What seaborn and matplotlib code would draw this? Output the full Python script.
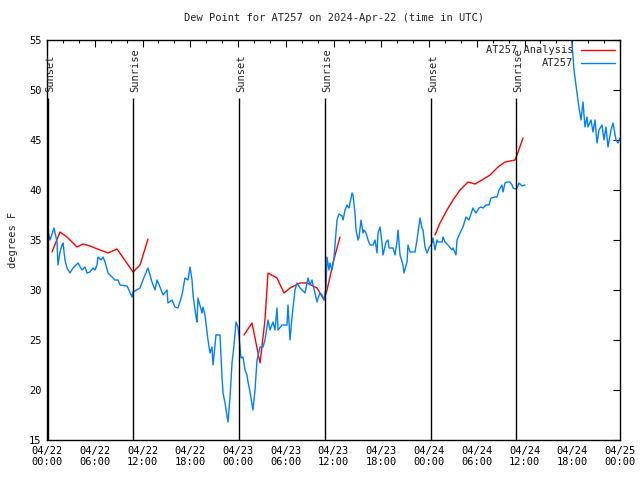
import pandas as pd
import seaborn as sns
import matplotlib
matplotlib.use("Agg")
import matplotlib.pyplot as plt

# hours since 2024-04-22 00:00 UTC, dew point in F
obs_hours_a = [0.0, 0.38, 0.88, 1.26, 1.38, 1.63, 1.88, 2.01, 2.26, 2.51, 2.89, 3.27, 3.9, 4.4, 4.78,
               5.03, 5.4, 5.78, 6.03, 6.28, 6.41, 6.79, 7.04, 7.29, 7.67, 8.17, 8.54, 8.92, 9.17, 10.05,
               10.18, 10.68, 10.81, 11.69, 12.06, 12.57, 12.69, 13.19, 13.57, 13.82, 14.2, 14.58, 15.08,
               15.2, 15.71, 16.08, 16.46, 16.96, 17.34, 17.72, 17.97, 18.22, 18.35, 18.72, 18.85, 18.97,
               19.48, 19.6, 19.85, 20.23, 20.48, 20.73, 20.86, 21.24, 21.74, 21.99, 22.12, 22.37, 22.74,
               23.0, 23.25, 23.5, 23.75, 24.0, 24.13, 24.38, 24.63, 24.88, 25.13, 25.26, 25.51, 25.88,
               26.14, 26.39, 26.77, 27.14, 27.39, 27.77, 28.02, 28.4, 28.65, 28.9, 29.03, 29.53, 30.16,
               30.28, 30.54, 30.79, 30.91, 31.16, 31.42, 31.79, 32.04, 32.42, 32.67, 32.8, 33.05, 33.3,
               33.43, 33.93, 34.06, 34.31, 34.56, 34.81, 35.06, 35.18, 35.43, 35.56, 35.81, 36.06, 36.31,
               36.44, 36.69, 37.07, 37.2, 37.45, 37.7, 37.95, 38.33, 38.45, 38.7, 38.83, 39.08, 39.21,
               39.46, 39.71, 39.83, 40.09, 40.34, 40.59, 40.97, 41.22, 41.47, 41.59, 41.85, 42.1, 42.22,
               42.6, 42.85, 42.98, 43.48, 43.73, 43.98, 44.11, 44.36, 44.73, 44.86, 45.24, 45.36, 45.62,
               46.24, 46.49, 46.87, 47.12, 47.25, 47.5, 47.75, 48.0, 48.38, 48.5, 48.76, 49.01, 49.13,
               49.64, 49.76, 50.01, 50.39, 50.89, 51.02, 51.39, 51.52, 51.9, 52.27, 52.65, 53.02, 53.53,
               53.65, 53.9, 54.28, 54.54, 54.79, 55.16, 55.54, 55.79, 56.3, 56.55, 56.8, 57.17, 57.3,
               57.55, 57.8, 58.18, 58.43, 58.56, 58.81, 59.06, 59.31, 59.69, 60.07]
obs_dew_a = [36.3, 35.0, 36.2, 34.8, 32.5, 33.8, 34.5, 34.7, 33.0, 32.2, 31.7, 32.2, 32.7, 32.0, 32.3,
             31.7, 31.8, 32.2, 32.0, 32.5, 33.3, 33.0, 33.3, 32.8, 31.7, 31.3, 31.0, 31.0, 30.5, 30.4,
             30.2, 29.3, 29.8, 30.2, 31.0, 32.0, 32.2, 30.8, 30.0, 31.0, 30.3, 29.5, 30.0,
             28.7, 29.0, 28.3, 28.2, 29.5, 31.2, 31.0, 32.3, 31.0, 29.5, 27.3, 26.8, 29.2,
             27.7, 28.3, 27.5, 25.0, 23.7, 24.3, 22.5, 25.5, 25.5, 21.3, 19.7, 18.7, 16.8,
             19.3, 22.7, 24.5, 26.8, 26.3, 25.3, 23.2, 23.3, 22.0, 21.5, 20.8, 19.8, 18.0,
             20.0, 23.0, 24.3, 24.3, 25.0, 27.0, 26.0, 26.8, 26.0, 28.2, 26.0, 26.5, 26.5,
             28.5, 25.0, 27.3, 28.2, 30.0, 30.7, 30.2, 30.0, 29.7, 30.7, 31.2, 30.5, 31.0,
             30.5, 28.8, 29.2, 29.7, 29.5, 29.0, 30.3, 33.3, 32.0, 32.7, 32.0, 33.2, 35.7,
             37.0, 37.6, 37.4, 37.0, 38.0, 38.5, 38.2, 39.7, 39.5, 37.7, 36.0, 35.0, 35.3,
             37.0, 35.7, 36.0, 35.7, 35.0, 34.5, 34.5, 35.0, 33.7, 35.7, 36.3, 34.7, 33.5,
             34.8, 35.0, 34.2, 34.2, 33.5, 34.8, 36.0, 33.5, 32.5, 31.7, 32.8, 34.5, 33.8,
             33.8, 35.0, 37.2, 36.2, 36.0, 34.3, 33.7, 34.2, 34.7, 35.2, 34.0, 35.0, 34.8,
             34.8, 35.3, 34.8, 34.5, 34.0, 34.2, 33.5, 35.0, 35.7, 36.3, 37.3, 37.0, 38.2,
             38.0, 37.7, 38.2, 38.3, 38.2, 38.5, 38.5, 39.2, 39.3, 39.3, 40.0, 40.5, 39.8,
             40.7, 40.8, 40.8, 40.5, 40.2, 40.1, 40.2, 40.7, 40.4, 40.5]

obs_hours_b = [65.9, 66.22, 66.6, 66.85, 67.1, 67.35, 67.6, 67.86, 67.98, 68.36, 68.61, 68.86, 69.11,
               69.36, 69.74, 69.99, 70.24, 70.49, 70.87, 71.12, 71.5, 71.75, 72.0]
obs_dew_b = [55.4, 52.0, 49.7, 48.2, 47.0, 48.8, 46.3, 47.3, 46.3, 47.0, 45.8, 47.0, 44.7,
             46.0, 46.5, 45.0, 46.3, 44.3, 46.0, 46.7, 45.0, 44.7, 45.2]

ana_hours_a = [0.63, 1.63, 2.51, 3.77, 4.52, 5.4, 6.66, 7.67, 8.8, 10.81, 11.69, 12.69]
ana_dew_a = [33.8, 35.8, 35.3, 34.3, 34.6, 34.4, 34.0, 33.7, 34.1, 31.8, 32.5, 35.1]

ana_hours_b = [24.75, 25.76, 26.77, 27.39, 27.77, 28.9, 29.78, 30.54, 31.79, 32.67, 33.93, 34.81,
               35.18, 35.56, 35.94, 36.44, 36.82]
ana_dew_b = [25.5, 26.7, 22.7, 27.0, 31.7, 31.2, 29.7, 30.2, 30.7, 30.7, 30.2, 29.0,
             30.0, 31.3, 32.7, 34.2, 35.3]

ana_hours_c = [48.76, 49.38, 50.26, 51.02, 51.9, 52.9, 53.78, 54.66, 55.67, 56.67, 57.55, 58.81,
               59.06, 59.81]
ana_dew_c = [35.5, 36.7, 38.0, 39.0, 40.0, 40.8, 40.6, 41.0, 41.5, 42.3, 42.8, 43.0,
             43.5, 45.2]

sun_hours = [0.1, 10.81, 24.13, 34.93, 48.25, 58.93]
sun_labels = ["Sunset", "Sunrise", "Sunset", "Sunrise", "Sunset", "Sunrise"]

tick_hours = list(range(0, 73, 6))
tick_labels = ["04/22\n00:00", "04/22\n06:00", "04/22\n12:00", "04/22\n18:00",
               "04/23\n00:00", "04/23\n06:00", "04/23\n12:00", "04/23\n18:00",
               "04/24\n00:00", "04/24\n06:00", "04/24\n12:00", "04/24\n18:00",
               "04/25\n00:00"]

sns.set_theme(style="white", rc={"xtick.direction": "in", "ytick.direction": "in"})
plt.rcParams["font.family"] = ["DejaVu Sans Mono", "DejaVu Sans"]
plt.rcParams["font.size"] = 7.5

fig = plt.figure(figsize=(6.4, 4.8), dpi=100)
ax = fig.add_axes([47 / 640, 40 / 480, 573 / 640, 400 / 480])

RED = "#ff0000"
BLUE = "#0080ff"

segments = [
    (ana_hours_a, ana_dew_a, RED, "AT257 Analysis"),
    (ana_hours_b, ana_dew_b, RED, None),
    (ana_hours_c, ana_dew_c, RED, None),
    (obs_hours_a, obs_dew_a, BLUE, "AT257"),
    (obs_hours_b, obs_dew_b, BLUE, None),
]
for hours, vals, color, label in segments:
    df = pd.DataFrame({"hour": hours, "dew": vals})
    sns.lineplot(data=df, x="hour", y="dew", color=color, lw=1.0, ax=ax,
                 label=label, sort=False, estimator=None)

for h, name in zip(sun_hours, sun_labels):
    ax.vlines(h, 15, 49.2, color="black", lw=1.0)
    ax.text(h + 0.25, 49.8, name, rotation=90, ha="center", va="bottom", fontsize=7.5)

ax.set_xlim(0, 72)
ax.set_ylim(15, 55)
ax.set_xticks(tick_hours)
ax.set_xticklabels(tick_labels)
ax.set_xticks(range(0, 73, 2), minor=True)
ax.set_yticks(range(15, 56, 5))
ax.tick_params(which="both", top=True, right=True, direction="in", colors="black",
               labelsize=7.5, width=0.8)
ax.tick_params(which="major", length=5, pad=4)
ax.tick_params(which="minor", length=2.5)
for s in ax.spines.values():
    s.set_color("black")
    s.set_linewidth(1.0)

ax.set_xlabel("")
ax.set_ylabel("degrees F", fontsize=7.5, labelpad=8)
ax.set_title("Dew Point for AT257 on 2024-Apr-22 (time in UTC)", fontsize=7.5, pad=14)

ax.legend(loc="upper right", frameon=False, markerfirst=False, fontsize=7.5,
          handlelength=3.2, borderaxespad=0.1, labelspacing=0.3, handletextpad=0.8)

fig.savefig("out.png", dpi=100)
